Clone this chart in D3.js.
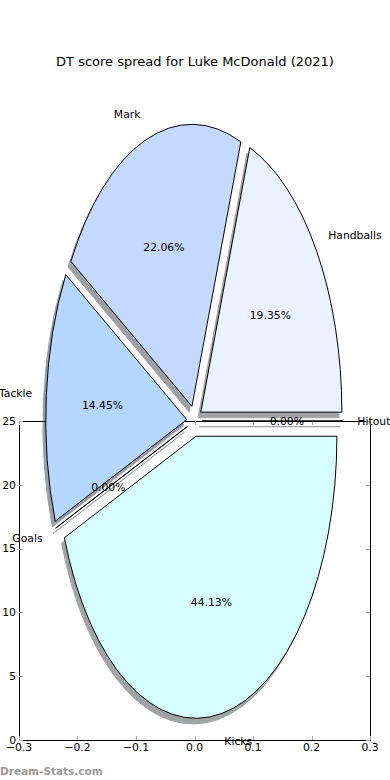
<!DOCTYPE html>
<html><head><meta charset="utf-8">
<script src="https://cdn.jsdelivr.net/npm/d3@7"></script>
<style>body{margin:0;background:#fff}svg{display:block;font-family:"DejaVu Sans",sans-serif}</style>
</head><body><svg id="c" width="390" height="780"></svg>
<script>
const categories = ["Handballs","Mark","Tackle","Goals","Kicks","Hitout"];
const values = [19.35, 22.06, 14.45, 0, 44.13, 0];
const colors = ["#ebf2ff","#c5d8ff","#b4d6ff","#c8e6ff","#d8ffff","#e0e0ff"];
const xTicks = [-0.3,-0.2,-0.1,0.0,0.1,0.2,0.3];
const yTicks = [0,5,10,15,20,25];
const title = "DT score spread for Luke McDonald (2021)";

const svg = d3.select("#c");
const x = d3.scaleLinear().domain([-0.3,0.3]).range([19,370]);
const y = d3.scaleLinear().domain([0,25]).range([740,421]);
const FS = 10.8;

// axes frame
const ax = svg.append("g");
ax.append("rect").attr("x",x(-0.3)).attr("y",y(25)).attr("width",x(0.3)-x(-0.3)).attr("height",y(0)-y(25))
  .attr("fill","none").attr("stroke","#000").attr("stroke-width",1).attr("shape-rendering","crispEdges");
xTicks.forEach(t=>{
  const px = Math.round(x(t))+0.5;
  ax.append("line").attr("x1",px).attr("x2",px).attr("y1",y(0)).attr("y2",y(0)-4).attr("stroke","#aaa");
  ax.append("line").attr("x1",px).attr("x2",px).attr("y1",y(25)).attr("y2",y(25)+4).attr("stroke","#aaa");
  ax.append("text").attr("x",x(t)).attr("y",y(0)+11).attr("text-anchor","middle").attr("font-size",FS)
    .text(d3.format(".1f")(t).replace("-","\u2212"));
});
yTicks.forEach(t=>{
  const py = Math.round(y(t))+0.5;
  ax.append("line").attr("y1",py).attr("y2",py).attr("x1",x(-0.3)).attr("x2",x(-0.3)+4).attr("stroke","#aaa");
  ax.append("line").attr("y1",py).attr("y2",py).attr("x1",x(0.3)).attr("x2",x(0.3)-4).attr("stroke","#aaa");
  ax.append("text").attr("x",x(-0.3)-3).attr("y",y(t)).attr("dy","0.36em").attr("text-anchor","end").attr("font-size",FS).text(t);
});

// pie
const cx = x(0), cy = y(25), rx = 141, ry = 282, explode = 0.055;
const pie = d3.pie().sort(null).value(d=>d.v).startAngle(Math.PI/2).endAngle(Math.PI/2-2*Math.PI);
const arcs = pie(categories.map((c,i)=>({c, v:values[i], col:colors[i]})));
const arc = d3.arc().innerRadius(0).outerRadius(1);
function geo(a){
  const mid = (a.startAngle + a.endAngle)/2; // d3 angle: clockwise from top
  const ux = Math.sin(mid), uy = -Math.cos(mid);
  return {ux, uy, ox: cx + explode*rx*ux, oy: cy + explode*ry*uy};
}
const gShadow = svg.append("g"), gWedge = svg.append("g"), gText = svg.append("g");
arcs.forEach(a=>{
  const g = geo(a);
  const c = d3.rgb(a.data.col);
  const sc = d3.rgb(c.r*0.3, c.g*0.3, c.b*0.3);
  gShadow.append("path").attr("d",arc(a))
    .attr("transform",`translate(${g.ox-0.02*rx},${g.oy+0.02*ry}) scale(${rx},${ry})`)
    .attr("fill",sc).attr("stroke",sc).attr("opacity",0.5).attr("stroke-width",1).attr("vector-effect","non-scaling-stroke");
});
arcs.forEach(a=>{
  const g = geo(a);
  gWedge.append("path").attr("d",arc(a))
    .attr("transform",`translate(${g.ox},${g.oy}) scale(${rx},${ry})`)
    .attr("fill",a.data.col).attr("stroke","#000").attr("stroke-width",1).attr("stroke-linejoin","miter").attr("vector-effect","non-scaling-stroke");
});
arcs.forEach(a=>{
  const g = geo(a);
  const lx = g.ox + 1.1*rx*g.ux, ly = g.oy + 1.1*ry*g.uy;
  gText.append("text").attr("x",lx).attr("y",ly).attr("dy","0.36em").attr("font-size",FS)
    .attr("text-anchor", (lx-cx) > 0 ? "start" : "end").text(a.data.c);
  const px = g.ox + 0.6*rx*g.ux, py = g.oy + 0.6*ry*g.uy;
  gText.append("text").attr("x",px).attr("y",py).attr("dy","0.36em").attr("font-size",FS)
    .attr("text-anchor","middle").text(d3.format(".2f")(a.data.v)+"%");
});

svg.append("text").attr("x",195).attr("y",61).attr("dy","0.36em").attr("text-anchor","middle").attr("font-size",13).text(title);
svg.append("text").attr("x",0).attr("y",775).attr("font-size",10.5).attr("font-weight","bold").attr("fill","#999").text("Dream-Stats.com");
</script></body></html>
